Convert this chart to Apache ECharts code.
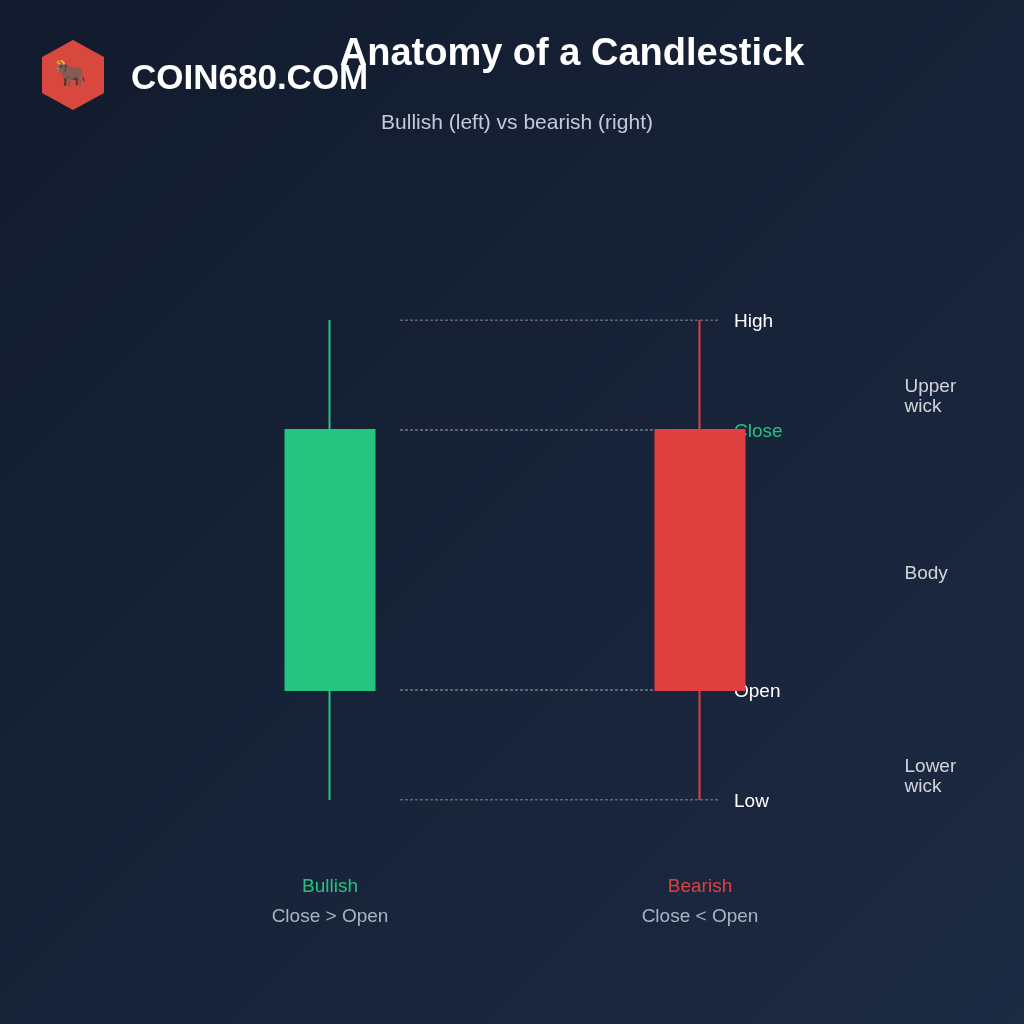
<!DOCTYPE html><html><head><meta charset="utf-8">
<script src="https://cdn.jsdelivr.net/npm/echarts@6/dist/echarts.min.js"></script>
<style>html,body{margin:0;padding:0;}#c{width:1024px;height:1024px;}</style></head><body><div id="c"></div>
<script>
const categories = ['Bullish', 'Bearish'];
const subLabels = ['Close > Open', 'Close < Open'];
// [open, close, low, high]
const candles = [[11, 37, 0, 48], [37, 11, 0, 48]];
const levelNames = ['High', 'Close', 'Open', 'Low'];
const levelValues = [48, 37, 11, 0];
const levelColors = ['#ffffff', '#26c281', '#ffffff', '#ffffff'];
const partNames = ['Upper\nwick', 'Body', 'Lower\nwick'];
const partValues = [40.3, 22.6, 2.3];

const chart = echarts.init(document.getElementById('c'));
const lineSeries = levelValues.map((v, i) => ({
  type: 'line', xAxisIndex: 1, yAxisIndex: 1, symbol: 'none', silent: true,
  data: [[400, v], [720, v]],
  lineStyle: { color: 'rgba(220,225,235,0.7)', width: 1, type: [3, 2] },
  endLabel: { show: true, formatter: levelNames[i], color: levelColors[i], fontSize: 19, distance: 14, offset: [0, 2], fontFamily: 'Liberation Sans' },
  z: 1
}));
chart.setOption({
  backgroundColor: new echarts.graphic.LinearGradient(0, 0, 1, 1, [{ offset: 0, color: '#121b2d' }, { offset: 1, color: '#1c2a43' }]),
  title: [
    { text: 'Anatomy of a Candlestick', left: 567, top: 31, textAlign: 'center', textStyle: { color: '#fff', fontSize: 38, fontWeight: 'bold', fontFamily: 'Liberation Sans' } },
    { text: 'Bullish (left) vs bearish (right)', left: 512, top: 108, textAlign: 'center', textStyle: { color: '#c3cbd8', fontSize: 21, fontWeight: 'normal', fontFamily: 'Liberation Sans' } }
  ],
  grid: [
    { left: 145, width: 740, top: 320, height: 480 },
    { left: 0, width: 1024, top: 320, height: 480 }
  ],
  xAxis: [
    { type: 'category', data: categories, gridIndex: 0, axisLine: { show: false }, axisTick: { show: false },
      axisLabel: { margin: 72, formatter: (v, i) => '{' + (i === 0 ? 'g' : 'r') + '|' + v + '}\n{s|' + subLabels[i] + '}',
        rich: { g: { color: '#26c281', fontSize: 19, lineHeight: 30, fontFamily: 'Liberation Sans' }, r: { color: '#e04040', fontSize: 19, lineHeight: 30, fontFamily: 'Liberation Sans' }, s: { color: '#a9b3c2', fontSize: 19, lineHeight: 30, fontFamily: 'Liberation Sans' } } } },
    { type: 'value', gridIndex: 1, min: 0, max: 1024, show: false }
  ],
  yAxis: [
    { type: 'value', gridIndex: 0, min: 0, max: 48, show: false },
    { type: 'value', gridIndex: 1, min: 0, max: 48, show: false }
  ],
  series: [
    { type: 'candlestick', data: candles, barWidth: 90, z: 3,
      itemStyle: { color: '#26c481', color0: '#e04040', borderColor: '#26c481', borderColor0: '#e04040', borderWidth: 2 } },
    ...lineSeries,
    { type: 'scatter', xAxisIndex: 1, yAxisIndex: 1, symbolSize: 1, silent: true, itemStyle: { color: 'rgba(0,0,0,0)' },
      data: partValues.map((v, i) => ({ value: [904, v], label: { show: true, position: 'right', distance: 0, formatter: partNames[i], color: '#ffffff', fontSize: 19, lineHeight: 20, fontFamily: 'Liberation Sans' } })) }
  ],
  graphic: [
    { type: 'polygon', shape: { points: [[73, 40], [104, 57], [104, 93], [73, 110], [42, 93], [42, 57]] }, style: { fill: '#d9483f' } },
    { type: 'text', left: 54, top: 62, style: { text: '🐂', fill: '#fff', fontSize: 26 } },
    { type: 'text', left: 131, top: 62, style: { text: 'COIN680.COM', fill: '#fff', font: 'bold 35px "Liberation Sans"', shadowColor: 'rgba(0,0,0,0.8)', shadowOffsetX: 2, shadowOffsetY: 2, shadowBlur: 2 } }
  ]
});
</script></body></html>
